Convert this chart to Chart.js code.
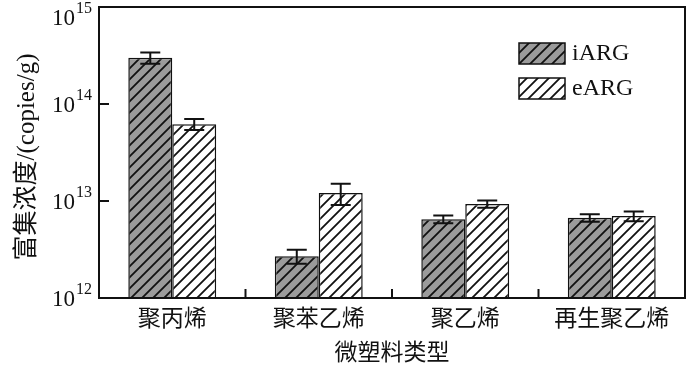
<!DOCTYPE html>
<html>
<head>
<meta charset="utf-8">
<script src="https://cdn.jsdelivr.net/npm/chart.js@4/dist/chart.umd.min.js"></script>
<style>
  html, body { margin: 0; padding: 0; background: #fff; }
  #wrap { width: 700px; height: 369px; }
</style>
</head>
<body>
<div id="wrap"><canvas id="barChart" width="700" height="369"></canvas></div>
<script>
const categories = ['聚丙烯', '聚苯乙烯', '聚乙烯', '再生聚乙烯'];
const iARG = [3.0e14, 2.7e12, 6.5e12, 6.7e12];
const iARGErr = [0.4e14, 0.45e12, 0.6e12, 0.6e12];
const eARG = [6.2e13, 1.21e13, 9.3e12, 7.0e12];
const eARGErr = [0.8e13, 0.3e13, 0.8e12, 0.8e12];
const yTicks = [1e12, 1e13, 1e14, 1e15];
const yTickExp = ['12', '13', '14', '15'];
const yTitle = '富集浓度/(copies/g)';
const xTitle = '微塑料类型';

const serif = '"Liberation Serif", "Noto Sans CJK SC", serif';
const cjk = '"Noto Sans CJK SC", "Liberation Serif", serif';

function hatch(bg) {
  const s = 11;
  const c = document.createElement('canvas');
  c.width = s; c.height = s;
  const g = c.getContext('2d');
  g.fillStyle = bg;
  g.fillRect(0, 0, s, s);
  g.strokeStyle = '#111';
  g.lineWidth = 1.8;
  g.beginPath();
  g.moveTo(-1, s + 1); g.lineTo(s + 1, -1);
  g.moveTo(-2, 2); g.lineTo(2, -2);
  g.moveTo(s - 2, s + 2); g.lineTo(s + 2, s - 2);
  g.stroke();
  return g.createPattern(c, 'repeat');
}

const errors = [iARGErr, eARGErr];

const decor = {
  id: 'decor',
  afterDatasetsDraw(chart) {
    const ctx = chart.ctx;
    const a = chart.chartArea;
    const y = chart.scales.y, x = chart.scales.x;
    ctx.save();
    // error bars
    ctx.strokeStyle = '#111';
    ctx.lineWidth = 2;
    chart.data.datasets.forEach((ds, di) => {
      chart.getDatasetMeta(di).data.forEach((bar, i) => {
        const v = ds.data[i], e = errors[di][i];
        const top = y.getPixelForValue(v + e), bot = y.getPixelForValue(v - e);
        ctx.beginPath();
        ctx.moveTo(bar.x, top); ctx.lineTo(bar.x, bot);
        ctx.moveTo(bar.x - 10, top); ctx.lineTo(bar.x + 10, top);
        ctx.moveTo(bar.x - 10, bot); ctx.lineTo(bar.x + 10, bot);
        ctx.stroke();
      });
    });
    // frame
    ctx.lineWidth = 2;
    ctx.strokeRect(a.left, a.top, a.right - a.left, a.bottom - a.top);
    // y ticks (inward) and labels
    ctx.fillStyle = '#111';
    ctx.textBaseline = 'alphabetic';
    yTicks.forEach((t, i) => {
      const py = y.getPixelForValue(t);
      ctx.beginPath();
      ctx.moveTo(a.left, py); ctx.lineTo(a.left + 10, py);
      ctx.stroke();
      const base = Math.max(py + 8, 25);
      ctx.font = '23px ' + serif;
      ctx.textAlign = 'right';
      ctx.fillText('10', 75, base);
      ctx.font = '16px ' + serif;
      ctx.textAlign = 'left';
      ctx.fillText(yTickExp[i], 76, base - 12);
    });
    // x ticks at category boundaries
    for (let i = 1; i < categories.length; i++) {
      const px = (x.getPixelForValue(i - 1) + x.getPixelForValue(i)) / 2;
      ctx.beginPath();
      ctx.moveTo(px, a.bottom); ctx.lineTo(px, a.bottom - 9);
      ctx.stroke();
    }
    // category labels
    ctx.font = '23px ' + cjk;
    ctx.textAlign = 'center';
    ctx.textBaseline = 'middle';
    categories.forEach((c, i) => {
      ctx.fillText(c, x.getPixelForValue(i), 317);
    });
    // x title
    ctx.fillText(xTitle, (a.left + a.right) / 2, 351);
    // y title
    ctx.save();
    ctx.translate(27, 157);
    ctx.rotate(-Math.PI / 2);
    ctx.font = '25px ' + serif;
    ctx.fillText(yTitle, 0, 0);
    ctx.restore();
    // legend
    const items = [['iARG', chart.data.datasets[0].backgroundColor, 43], ['eARG', chart.data.datasets[1].backgroundColor, 78]];
    items.forEach(([lab, fill, ly]) => {
      ctx.fillStyle = fill;
      ctx.fillRect(519, ly, 46, 21);
      ctx.lineWidth = 1.5;
      ctx.strokeRect(519, ly, 46, 21);
      ctx.fillStyle = '#111';
      ctx.font = '24px ' + serif;
      ctx.textAlign = 'left';
      ctx.textBaseline = 'middle';
      ctx.fillText(lab, 572, ly + 11);
    });
    ctx.restore();
  }
};

new Chart(document.getElementById('barChart').getContext('2d'), {
  type: 'bar',
  data: {
    labels: categories,
    datasets: [{
      label: 'iARG',
      data: iARG,
      backgroundColor: hatch('#9b9b9b'),
      borderColor: '#111',
      borderWidth: 1.5,
      base: 1e12
    }, {
      label: 'eARG',
      data: eARG,
      backgroundColor: hatch('#ffffff'),
      borderColor: '#111',
      borderWidth: 1.5,
      base: 1e12
    }]
  },
  options: {
    responsive: false,
    animation: false,
    layout: { padding: { left: 99, right: 15, top: 7, bottom: 71 } },
    datasets: { bar: { categoryPercentage: 0.6, barPercentage: 1.0 } },
    plugins: { legend: { display: false }, tooltip: { enabled: false } },
    scales: {
      x: { display: false },
      y: { display: false, type: 'logarithmic', min: 1e12, max: 1e15 }
    }
  },
  plugins: [decor]
});
</script>
</body>
</html>
